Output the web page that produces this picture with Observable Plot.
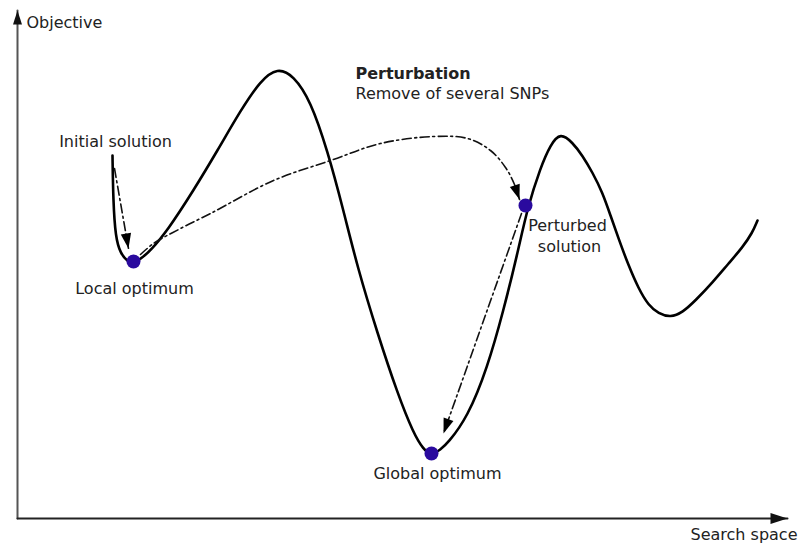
<!DOCTYPE html>
<html>
<head>
<meta charset="utf-8">
<script src="https://cdn.jsdelivr.net/npm/d3@7"></script>
<script src="https://cdn.jsdelivr.net/npm/@observablehq/plot@0.6"></script>
<style>
  html, body { margin: 0; padding: 0; background: #fff; }
  #chart svg { display: block; }
</style>
</head>
<body>
<div id="chart"></div>
<script>
// ---- Data (search-space position, objective value) ----
const curveX   = [112, 112.7, 115, 120, 127, 133, 142, 150, 167, 193, 217, 240, 260, 277, 293, 310, 327, 343, 357, 377, 397, 413, 423, 431, 440, 447, 467, 487, 503, 517, 527, 540, 550, 560, 572, 582, 592, 602, 610, 618, 628, 638, 648, 658, 670, 682, 695, 712, 728, 742, 752, 757];
const curveObj = [390, 345, 308, 292, 284, 282, 288, 295, 315, 355, 395, 435, 465, 478, 470, 445, 395, 335, 278, 212, 152, 112, 96, 90, 96, 102, 128, 178, 235, 292, 338, 378, 401, 413, 403, 390, 373, 353, 330, 307, 280, 257, 240, 232, 228, 233, 245, 263, 282, 298, 313, 325];

const solutionNames = ["Local optimum", "Global optimum", "Perturbed solution"];
const solutionX     = [133, 431, 525];
const solutionObj   = [284, 92, 340];

// moves between solutions (last point = arrow tip)
const descentX   = [114, 128];
const descentObj = [377, 297];
const perturbX   = [140, 153, 180, 210, 273, 330, 380, 433, 467, 490, 505, 514, 519];
const perturbObj = [291, 302, 317, 332, 365, 385, 402, 409, 407, 395, 378, 361, 346];
const searchX    = [521, 443];
const searchObj  = [332, 112];

// axes (last point = arrow tip)
const yAxisX   = [17, 17];
const yAxisObj = [27, 535];
const xAxisX   = [17, 787];
const xAxisObj = [27, 27];

// labels
const labelText = ["Objective", "Perturbation", "Remove of several SNPs", "Initial solution", "Local optimum", "Perturbed", "solution", "Global optimum", "Search space"];
const labelX    = [26, 355, 355, 115, 134, 567, 569, 437, 743.5];
const labelObj  = [522.3, 471.8, 451.8, 403.3, 257, 319.3, 298.3, 71.3, 10.3];
const labelAnchor = ["start", "start", "start", "middle", "middle", "middle", "middle", "middle", "middle"];
const labelBold   = [false, true, false, false, false, false, false, false, false];

// ---- build tables ----
const zip = (xs, ys, extra = {}) => xs.map((x, i) => ({x, y: ys[i], ...extra}));
const curve = zip(curveX, curveObj);
const moves = [
  ...zip(descentX, descentObj, {id: "descent"}),
  ...zip(perturbX, perturbObj, {id: "perturb"}),
  ...zip(searchX, searchObj, {id: "search"})
];
function head(xs, ys) {
  const n = xs.length;
  const dx = xs[n - 1] - xs[n - 2], dy = ys[n - 1] - ys[n - 2];
  return {x: xs[n - 1], y: ys[n - 1], angle: Math.atan2(dx, dy) * 180 / Math.PI};
}
const moveHeads = [head(descentX, descentObj), head(perturbX, perturbObj), head(searchX, searchObj)];
const yHead = [head(yAxisX, yAxisObj)];
const xHead = [head(xAxisX, xAxisObj)];
const solutions = solutionNames.map((name, i) => ({name, x: solutionX[i], y: solutionObj[i]}));
const labels = labelText.map((t, i) => ({t, x: labelX[i], y: labelObj[i], anchor: labelAnchor[i], bold: labelBold[i]}));

// arrowhead symbol factory: tip at origin, pointing up
const arrowHead = (len, halfWidth) => ({
  draw(ctx) {
    ctx.moveTo(0, 0);
    ctx.lineTo(-halfWidth, len);
    ctx.lineTo(halfWidth, len);
    ctx.closePath();
  }
});

const textMark = (data) => Plot.text(data, {
  x: "x", y: "y", text: "t",
  textAnchor: data[0].anchor,
  fontWeight: data[0].bold ? "bold" : "normal",
  fontSize: 16, fill: "#222"
});

const chart = Plot.plot({
  width: 803,
  height: 545,
  margin: 0,
  x: {domain: [0, 803], axis: null},
  y: {domain: [0, 545], axis: null},
  style: {fontFamily: "'DejaVu Sans', sans-serif", background: "#fff"},
  marks: [
    Plot.line(zip(yAxisX, yAxisObj), {x: "x", y: "y", stroke: "#555", strokeWidth: 2}),
    Plot.line(zip(xAxisX, xAxisObj), {x: "x", y: "y", stroke: "#222", strokeWidth: 2}),
    Plot.dot(yHead, {x: "x", y: "y", rotate: "angle", symbol: arrowHead(14, 4.5), fill: "#111", stroke: "none"}),
    Plot.dot(xHead, {x: "x", y: "y", rotate: "angle", symbol: arrowHead(17, 5.5), fill: "#111", stroke: "none"}),
    Plot.line(curve, {x: "x", y: "y", curve: "basis", stroke: "#000", strokeWidth: 2.6}),
    Plot.line(moves, {x: "x", y: "y", z: "id", curve: "catmull-rom", stroke: "#111", strokeWidth: 1.6, strokeDasharray: "9,3.5,2,3.5"}),
    Plot.dot(moveHeads, {x: "x", y: "y", rotate: "angle", symbol: arrowHead(15, 5.2), fill: "#000", stroke: "none"}),
    Plot.dot(solutions, {x: "x", y: "y", r: 7, fill: "#2a0a9e", stroke: "none"}),
    ...labels.map(l => textMark([l]))
  ]
});
document.getElementById("chart").append(chart);
</script>
</body>
</html>
